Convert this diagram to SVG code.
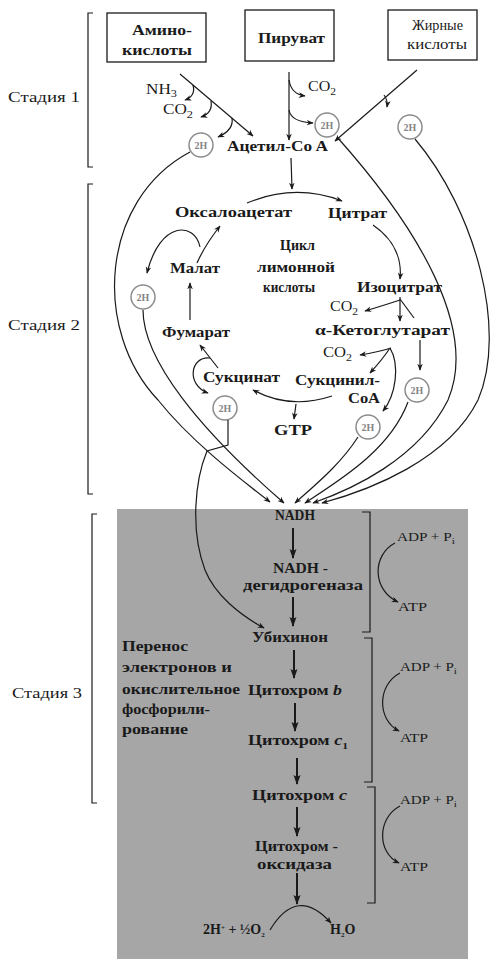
<svg xmlns="http://www.w3.org/2000/svg" width="491" height="959" viewBox="0 0 491 959">
<defs>
<marker id="a" viewBox="0 0 10 10" refX="9" refY="5" markerWidth="7" markerHeight="7" orient="auto" markerUnits="userSpaceOnUse"><path d="M0,1 L10,5 L0,9 L3,5 z" fill="#1a1a1a"/></marker>
<marker id="ab" viewBox="0 0 10 10" refX="9" refY="5" markerWidth="10" markerHeight="10" orient="auto" markerUnits="userSpaceOnUse"><path d="M0,1.5 L10,5 L0,8.5 L2,5 z" fill="#1a1a1a"/></marker>
</defs>
<style>
.t{font-family:"Liberation Serif","DejaVu Serif",serif;fill:#1a1a1a;font-size:14px}
.b{font-weight:bold}
.s{font-size:12px}
.ln{fill:none;stroke:#1a1a1a;stroke-width:1.2}
.th{fill:none;stroke:#1a1a1a;stroke-width:2}
.bx{fill:#fff;stroke:#1a1a1a;stroke-width:1.3}
.c{fill:#fff;stroke:#8c8c8c;stroke-width:1.5}
.h{font-family:"Liberation Serif","DejaVu Serif",serif;font-size:10px;font-weight:bold;fill:#858585;text-anchor:middle}
</style>
<rect width="491" height="959" fill="#fff"/>
<rect id="stage3-area" x="117" y="509" width="351" height="450" fill="#a6a6a6"/>

<g id="stage1">
<path class="ln" d="M93,13 H88 V167 H93"/>
<text class="t" x="8" y="102" textLength="72" lengthAdjust="spacingAndGlyphs">Стадия 1</text>
</g>
<g id="stage2">
<path class="ln" d="M93,184 H88 V494 H93"/>
<text class="t" x="8" y="330" textLength="72" lengthAdjust="spacingAndGlyphs">Стадия 2</text>
</g>
<g id="stage3">
<path class="ln" d="M97,514 H92 V803 H97"/>
<text class="t" x="12" y="698" textLength="70" lengthAdjust="spacingAndGlyphs">Стадия 3</text>
</g>

<g id="amino">
<rect class="bx" x="107" y="13" width="99" height="49"/>
<text class="t b" x="132" y="35" textLength="60" lengthAdjust="spacingAndGlyphs">Амино-</text>
<text class="t b" x="122" y="55" textLength="70" lengthAdjust="spacingAndGlyphs">кислоты</text>
</g>
<g id="pyruvate">
<rect class="bx" x="245" y="10" width="89" height="51"/>
<text class="t b" x="258" y="43" textLength="67" lengthAdjust="spacingAndGlyphs">Пируват</text>
</g>
<g id="fatty">
<rect class="bx" x="388" y="10" width="89" height="50"/>
<text class="t" x="412" y="30" textLength="51" lengthAdjust="spacingAndGlyphs">Жирные</text>
<text class="t" x="407" y="49" textLength="60" lengthAdjust="spacingAndGlyphs">кислоты</text>
</g>
<g id="nh3"><text class="t" x="146" y="94" font-size="15" textLength="31" lengthAdjust="spacingAndGlyphs">NH<tspan dy="3" font-size="10">3</tspan></text></g>
<g id="co2-a"><text class="t" x="163" y="114" font-size="15" textLength="30" lengthAdjust="spacingAndGlyphs">CO<tspan dy="4" font-size="10">2</tspan></text></g>
<g id="co2-p"><text class="t" x="308" y="91" font-size="15" textLength="28" lengthAdjust="spacingAndGlyphs">CO<tspan dy="4" font-size="10">2</tspan></text></g>
<g id="acetylcoa"><text class="t b" x="227" y="151" textLength="101" lengthAdjust="spacingAndGlyphs">Ацетил-Co A</text></g>

<g id="h2-amino"><circle class="c" cx="201" cy="145" r="12"/><text class="h" x="201" y="149">2H</text></g>
<g id="h2-pyr"><circle class="c" cx="327" cy="125" r="12"/><text class="h" x="327" y="129">2H</text></g>
<g id="h2-fat"><circle class="c" cx="410" cy="127" r="12"/><text class="h" x="410" y="131">2H</text></g>
<g id="h2-malate"><circle class="c" cx="143" cy="297" r="12"/><text class="h" x="143" y="301">2H</text></g>
<g id="h2-succ"><circle class="c" cx="225" cy="408" r="12"/><text class="h" x="225" y="412">2H</text></g>
<g id="h2-akg"><circle class="c" cx="417" cy="390" r="12"/><text class="h" x="417" y="394">2H</text></g>
<g id="h2-sucoa"><circle class="c" cx="368" cy="427" r="12"/><text class="h" x="368" y="431">2H</text></g>

<g id="oxaloacetate"><text class="t b" x="175" y="217" textLength="117" lengthAdjust="spacingAndGlyphs">Оксалоацетат</text></g>
<g id="citrate"><text class="t b" x="328" y="218" textLength="59" lengthAdjust="spacingAndGlyphs">Цитрат</text></g>
<g id="cycle-label">
<text class="t b" x="280" y="250" textLength="35" lengthAdjust="spacingAndGlyphs">Цикл</text>
<text class="t b" x="257" y="272" textLength="78" lengthAdjust="spacingAndGlyphs">лимонной</text>
<text class="t b" x="263" y="292" textLength="52" lengthAdjust="spacingAndGlyphs">кислоты</text>
</g>
<g id="malate"><text class="t b" x="170" y="273" textLength="50" lengthAdjust="spacingAndGlyphs">Малат</text></g>
<g id="isocitrate"><text class="t b" x="357" y="292" textLength="85" lengthAdjust="spacingAndGlyphs">Изоцитрат</text></g>
<g id="co2-i"><text class="t" x="330" y="311" font-size="15" textLength="28" lengthAdjust="spacingAndGlyphs">CO<tspan dy="4" font-size="10">2</tspan></text></g>
<g id="akg"><text class="t b" x="315" y="335" textLength="135" lengthAdjust="spacingAndGlyphs">α-Кетоглутарат</text></g>
<g id="co2-k"><text class="t" x="323" y="357" font-size="15" textLength="29" lengthAdjust="spacingAndGlyphs">CO<tspan dy="4" font-size="10">2</tspan></text></g>
<g id="succinylcoa">
<text class="t b" x="295" y="385" textLength="85" lengthAdjust="spacingAndGlyphs">Сукцинил-</text>
<text class="t b" x="348" y="403" textLength="32" lengthAdjust="spacingAndGlyphs">CoA</text>
</g>
<g id="gtp"><text class="t b" x="274" y="435" textLength="38" lengthAdjust="spacingAndGlyphs">GTP</text></g>
<g id="succinate"><text class="t b" x="203" y="382" textLength="77" lengthAdjust="spacingAndGlyphs">Сукцинат</text></g>
<g id="fumarate"><text class="t b" x="162" y="337" textLength="68" lengthAdjust="spacingAndGlyphs">Фумарат</text></g>

<g id="etc-label">
<text class="t b" x="122" y="651" font-size="13" textLength="66" lengthAdjust="spacingAndGlyphs">Перенос</text>
<text class="t b" x="122" y="672" font-size="13" textLength="110" lengthAdjust="spacingAndGlyphs">электронов и</text>
<text class="t b" x="122" y="694" font-size="13" textLength="118" lengthAdjust="spacingAndGlyphs">окислительное</text>
<text class="t b" x="122" y="714" font-size="13" textLength="88" lengthAdjust="spacingAndGlyphs">фосфорили-</text>
<text class="t b" x="122" y="734" font-size="13" textLength="66" lengthAdjust="spacingAndGlyphs">рование</text>
</g>
<g id="nadh"><text class="t b" x="275" y="520" font-size="11" textLength="40" lengthAdjust="spacingAndGlyphs">NADH</text></g>
<g id="nadh-dh">
<text class="t b" x="273" y="573" font-size="13" textLength="55" lengthAdjust="spacingAndGlyphs">NADH -</text>
<text class="t b" x="243" y="590" font-size="13" textLength="120" lengthAdjust="spacingAndGlyphs">дегидрогеназа</text>
</g>
<g id="ubiquinone"><text class="t b" x="252" y="642" font-size="13" textLength="76" lengthAdjust="spacingAndGlyphs">Убихинон</text></g>
<g id="cyt-b"><text class="t b" x="248" y="695" font-size="13" textLength="94" lengthAdjust="spacingAndGlyphs">Цитохром <tspan font-style="italic">b</tspan></text></g>
<g id="cyt-c1"><text class="t b" x="248" y="745" font-size="13" textLength="100" lengthAdjust="spacingAndGlyphs">Цитохром <tspan font-style="italic">c</tspan><tspan dy="4" font-size="9">1</tspan></text></g>
<g id="cyt-c"><text class="t b" x="252" y="800" font-size="13" textLength="95" lengthAdjust="spacingAndGlyphs">Цитохром <tspan font-style="italic">c</tspan></text></g>
<g id="cyt-ox">
<text class="t b" x="255" y="851" font-size="13" textLength="83" lengthAdjust="spacingAndGlyphs">Цитохром -</text>
<text class="t b" x="257" y="869" font-size="13" textLength="75" lengthAdjust="spacingAndGlyphs">оксидаза</text>
</g>
<g id="water">
<text class="t b" x="203" y="934" font-size="10">2H<tspan dy="-4" font-size="7">+</tspan><tspan dy="4"> + ½O</tspan><tspan dy="3" font-size="7">2</tspan></text>
<text class="t b" x="330" y="934" font-size="10">H<tspan dy="3" font-size="7">2</tspan><tspan dy="-3">O</tspan></text>
</g>
<g id="atp1">
<text class="t s" x="397" y="541" textLength="58" lengthAdjust="spacingAndGlyphs">ADP + P<tspan dy="3" font-size="9">i</tspan></text>
<text class="t s" x="398" y="611" textLength="29" lengthAdjust="spacingAndGlyphs">ATP</text>
</g>
<g id="atp2">
<text class="t s" x="400" y="671" textLength="57" lengthAdjust="spacingAndGlyphs">ADP + P<tspan dy="3" font-size="9">i</tspan></text>
<text class="t s" x="400" y="742" textLength="28" lengthAdjust="spacingAndGlyphs">ATP</text>
</g>
<g id="atp3">
<text class="t s" x="400" y="804" textLength="57" lengthAdjust="spacingAndGlyphs">ADP + P<tspan dy="3" font-size="9">i</tspan></text>
<text class="t s" x="400" y="871" textLength="28" lengthAdjust="spacingAndGlyphs">ATP</text>
</g>
<g id="etc-brackets">
<path class="ln" d="M362,512 H370 V632 H362"/>
<path class="ln" d="M364,638 H372 V782 H364"/>
<path class="ln" d="M367,787 H375 V903 H367"/>
</g>

<g id="connectors">
<path class="ln" d="M180,74 L253,136" marker-end="url(#a)"/>
<path class="ln" d="M193,85 Q196,96 185,100" marker-end="url(#a)"/>
<path class="ln" d="M211,101 Q213,113 201,117" marker-end="url(#a)"/>
<path class="ln" d="M232,118 Q234,130 218,137" marker-end="url(#a)"/>
<path class="ln" d="M289,72 V140" marker-end="url(#a)"/>
<path class="ln" d="M289,80 Q291,94 305,96" marker-end="url(#a)"/>
<path class="ln" d="M289,110 Q291,122 313,123" marker-end="url(#a)"/>
<path class="ln" d="M417,70 L335,141" marker-end="url(#a)"/>
<path class="ln" d="M384,95 Q388,100 387,107" marker-end="url(#a)"/>
<path class="ln" d="M291,158 L292,189" marker-end="url(#a)"/>
<path class="ln" d="M247,203 Q295,183 342,201" marker-end="url(#a)"/>
<path class="ln" d="M373,225 C395,240 402,260 400,279" marker-end="url(#a)"/>
<path class="ln" d="M400,297 V321" marker-end="url(#a)"/>
<path class="ln" d="M400,300 Q385,305 365,311" marker-end="url(#a)"/>
<path class="ln" d="M400,299 L414,318"/>
<path class="ln" d="M420,340 V370" marker-end="url(#a)"/>
<path class="ln" d="M391,348 Q378,352 360,355" marker-end="url(#a)"/>
<path class="ln" d="M390,348 Q382,360 370,373" marker-end="url(#a)"/>
<path class="ln" d="M390,348 C400,365 396,395 383,411" marker-end="url(#a)"/>
<path class="ln" d="M332,396 Q290,410 253,390" marker-end="url(#a)"/>
<path class="ln" d="M296,404 L294,419" marker-end="url(#a)"/>
<path class="ln" d="M218,368 L200,345" marker-end="url(#a)"/>
<path class="ln" d="M210,358 C190,356 186,385 208,393" marker-end="url(#a)"/>
<path class="ln" d="M190,320 V283" marker-end="url(#a)"/>
<path class="ln" d="M197,263 Q205,245 220,226" marker-end="url(#a)"/>
<path class="ln" d="M200,247 C195,222 160,220 147,273" marker-end="url(#a)"/>
<path class="ln" d="M190,152 C100,200 92,330 158,400 C190,440 235,475 270,502" marker-end="url(#a)"/>
<path class="ln" d="M143,310 C143,360 200,430 284,503" marker-end="url(#a)"/>
<path class="ln" d="M358,437 C340,465 315,485 295,503" marker-end="url(#a)"/>
<path class="ln" d="M408,402 C390,450 340,480 305,503" marker-end="url(#a)"/>
<path class="ln" d="M337,137 C420,230 478,330 448,400 C418,460 350,490 313,503" marker-end="url(#a)"/>
<path class="ln" d="M415,139 C475,210 508,330 478,400 C448,460 370,490 322,503" marker-end="url(#a)"/>
<path class="ln" d="M228,420 V445 L207,451 C195,480 190,530 205,570 C215,595 240,615 264,628" marker-end="url(#a)"/>
<path class="th" d="M293,528 V558" marker-end="url(#ab)"/>
<path class="th" d="M293,597 V626" marker-end="url(#ab)"/>
<path class="th" d="M294,650 V678" marker-end="url(#ab)"/>
<path class="th" d="M295,703 V731" marker-end="url(#ab)"/>
<path class="th" d="M297,758 V784" marker-end="url(#ab)"/>
<path class="th" d="M297,807 V836" marker-end="url(#ab)"/>
<path class="th" d="M297,873 V904" marker-end="url(#ab)"/>
<path class="ln" d="M270,930 Q297,885 331,923" marker-end="url(#a)"/>
<path class="ln" d="M395,543 C372,555 372,590 398,602" marker-end="url(#a)"/>
<path class="ln" d="M400,673 C377,685 377,720 399,731" marker-end="url(#a)"/>
<path class="ln" d="M400,806 C377,818 377,853 399,863" marker-end="url(#a)"/>
</g>
</svg>
